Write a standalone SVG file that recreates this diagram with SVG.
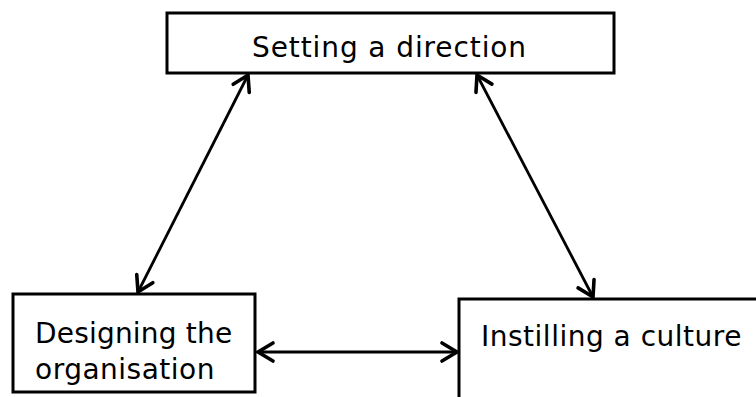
<svg xmlns="http://www.w3.org/2000/svg" width="756" height="397" viewBox="0 0 756 397">
  <style>
    .box { fill: #ffffff; stroke: #000000; stroke-width: 3; }
    .label { font-family: "DejaVu Sans", "Liberation Sans", sans-serif; font-size: 28px; fill: #000000; letter-spacing: 0.5px; }
    .link { fill: none; stroke: #000000; stroke-width: 2.8; marker-start: url(#head); marker-end: url(#head); }
  </style>
  <defs>
    <marker id="head" viewBox="0 0 24 24" refX="19" refY="12" markerWidth="24" markerHeight="24" markerUnits="userSpaceOnUse" orient="auto-start-reverse">
      <path d="M4,3 L19,12 L4,21" fill="none" stroke="#000000" stroke-width="3.6" stroke-linecap="round" stroke-linejoin="miter"/>
    </marker>
  </defs>

  <rect width="756" height="397" fill="#ffffff"/>

  <g id="setting-direction">
    <rect class="box" x="167" y="13" width="447" height="60"/>
    <text class="label" x="252" y="57" style="letter-spacing:0.9px">Setting a direction</text>
  </g>

  <g id="designing-organisation">
    <rect class="box" x="13" y="294" width="242" height="98"/>
    <text class="label" x="35" y="343" style="letter-spacing:0.2px">Designing the</text>
    <text class="label" x="35" y="379">organisation</text>
  </g>

  <g id="instilling-culture">
    <rect class="box" x="459" y="299" width="310" height="110"/>
    <text class="label" x="481" y="346">Instilling a culture</text>
  </g>

  <g id="connectors">
    <line class="link" x1="248" y1="75" x2="138" y2="292"/>
    <line class="link" x1="477" y1="75" x2="593" y2="297"/>
    <line class="link" x1="258" y1="352" x2="457" y2="352"/>
  </g>
</svg>
